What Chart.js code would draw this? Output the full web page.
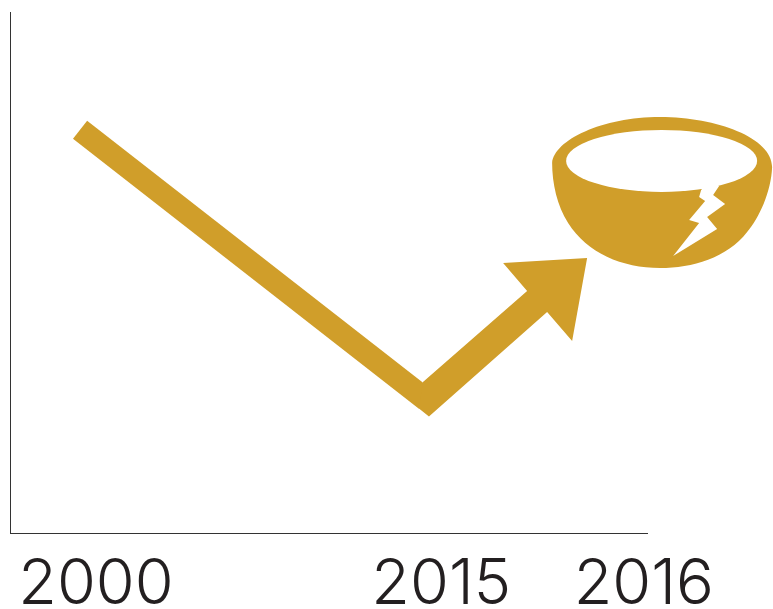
<!DOCTYPE html>
<html><head><meta charset="utf-8">
<script src="https://cdn.jsdelivr.net/npm/chart.js@4"></script>
<style>html,body{margin:0;padding:0;background:#fff}canvas{display:block}</style>
</head><body><canvas id="c" width="773" height="609"></canvas>
<script>
const tickLabels = ['2000','2015','2016'];
const tickPositions = [13.5,67.7,99.5];
const pointPositions = [11.0,65.3,90.6];
const trendValues = [77.4,25.6,52.8];
const GOLD = '#d09e2a';

const arrowShape = [[-3,-17.5,0],[-60,33,1],[-84,5,1],[0,0,1],[-15,83,1],[-40,54,1],[3,17,0],[-7,9,0]];
const crack = [[123,-78],[114,-68],[112,-61],[118,-57],[102,-38],[112,-35],[86,-2],[130,-29],[120,-41],[138,-54],[126,-63],[132,-72]];

const art = {
  id:'art',
  afterDatasetsDraw(chart){
    const c = chart.ctx, pts = chart.getDatasetMeta(0).data;
    const v = pts[1], t = pts[2];
    c.save();
    c.fillStyle = GOLD;
    c.beginPath();
    arrowShape.forEach(([dx,dy,fromTip],i)=>{
      const o = fromTip ? t : v;
      c[i?'lineTo':'moveTo'](o.x+dx,o.y+dy);
    });
    c.closePath(); c.fill();
    const X = d=>t.x+d, Y = d=>t.y+d;
    c.beginPath();
    c.moveTo(X(-35),Y(-95));
    c.bezierCurveTo(X(-33),Y(-118),X(15),Y(-141),X(73),Y(-141));
    c.bezierCurveTo(X(130),Y(-141),X(185),Y(-120),X(185),Y(-91));
    c.bezierCurveTo(X(184),Y(-66),X(172),Y(-40),X(160),Y(-26));
    c.bezierCurveTo(X(140),Y(0),X(105),Y(10),X(73),Y(10));
    c.bezierCurveTo(X(35),Y(10),X(0),Y(-5),X(-19),Y(-35));
    c.bezierCurveTo(X(-30),Y(-52),X(-35),Y(-75),X(-35),Y(-95));
    c.closePath(); c.fill();
    c.fillStyle = '#fff';
    c.beginPath();
    c.ellipse(X(74.5),Y(-97),95.5,31,0,0,Math.PI*2);
    c.fill();
    c.beginPath();
    crack.forEach(([dx,dy],i)=>c[i?'lineTo':'moveTo'](X(dx),Y(dy)));
    c.closePath(); c.fill();
    c.restore();
  }
};

new Chart(document.getElementById('c'),{
  type:'line',
  data:{datasets:[{
    label:'Trend',
    data:pointPositions.map((x,i)=>({x,y:trendValues[i]})),
    borderColor:GOLD,
    borderWidth:23,
    borderCapStyle:'butt',
    borderJoinStyle:'miter',
    pointRadius:0,
    tension:0,
    clip:false,
    segment:{borderColor:ctx=>ctx.p1DataIndex===2?'rgba(0,0,0,0)':GOLD}
  }]},
  plugins:[art],
  options:{
    responsive:false,animation:false,
    layout:{padding:{left:10,top:12,right:126,bottom:0}},
    plugins:{legend:{display:false},tooltip:{enabled:false}},
    scales:{
      x:{type:'linear',min:0,max:100,
        grid:{display:false,drawTicks:false},
        border:{color:'#333',width:1},
        afterBuildTicks:s=>{s.ticks=tickPositions.map(value=>({value}))},
        afterFit:s=>{s.height=76},
        ticks:{autoSkip:false,maxRotation:0,padding:14,color:'#231f20',
          font:{family:'Inter',size:63,weight:'300'},
          callback:(v,i)=>tickLabels[i]}
      },
      y:{min:0,max:100,
        grid:{display:false,drawTicks:false},
        border:{color:'#333',width:1},
        afterFit:s=>{s.width=0},
        ticks:{display:false}
      }
    }
  }
});
</script></body></html>
